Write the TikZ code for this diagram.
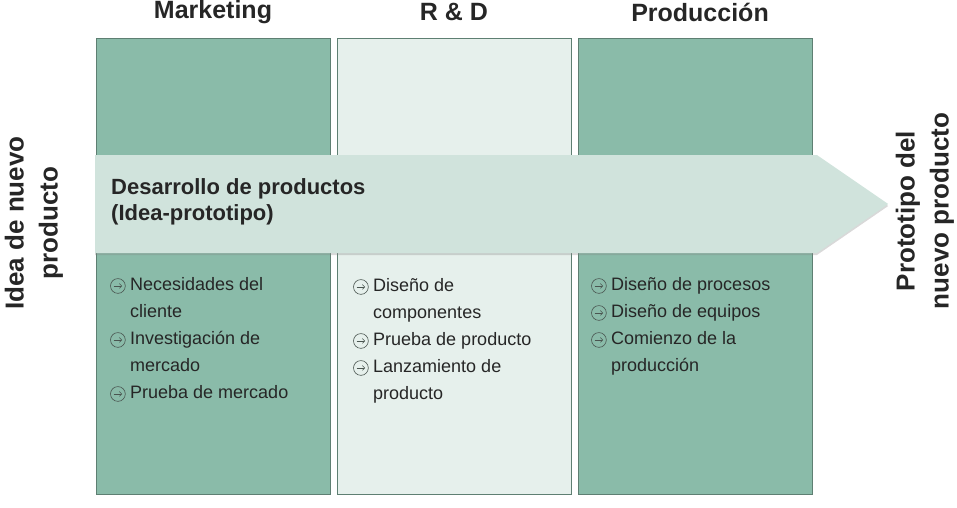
\documentclass[tikz,border=0pt]{standalone}
\usepackage{fontspec}
\setmainfont{Liberation Sans}
\usetikzlibrary{arrows.meta,positioning,shapes.arrows,shadows}
\definecolor{Sage}{HTML}{8ABBA9}
\definecolor{SageLight}{HTML}{E6F0EC}
\definecolor{SageEdge}{HTML}{5E7F72}
\definecolor{FlowFill}{HTML}{D0E3DC}
\definecolor{Ink}{HTML}{262626}
\definecolor{BulletGray}{HTML}{4A5550}

\newcommand{\bulletarrow}{\tikz[baseline=-0.45ex,x=1pt,y=1pt,line width=0.6pt,BulletGray]{%
  \draw (0,0) circle (7.4);
  \draw[-{Straight Barb[length=2.4pt,width=4.8pt]}] (-4.3,0)--(4.3,0);}}
\newcommand{\itm}[1]{\makebox[20pt][l]{\bulletarrow}#1}
\newcommand{\cnt}[1]{\hspace*{20pt}#1}

\tikzset{
  column/.style={draw=SageEdge,line width=0.6pt,minimum width=234pt,minimum height=456pt,inner sep=0pt},
  header/.style={font=\fontsize{25}{28}\selectfont\bfseries,text=Ink},
  items/.style={font=\fontsize{18}{27}\selectfont,text=Ink,align=left,anchor=north west,inner sep=0pt},
  sidelabel/.style={font=\fontsize{26}{34}\selectfont\bfseries,text=Ink,align=center,rotate=90}
}

\begin{document}
\begin{tikzpicture}[x=1pt,y=-1pt]
  \useasboundingbox (0,0) rectangle (957,507);

  % the three departments
  \node[column,fill=Sage] (mkt) at (213,266) {};
  \node[column,fill=SageLight] (rd) at (454,266) {};
  \node[column,fill=Sage] (prod) at (695,266) {};

  \node[header] (mkthead) at (213,12) {Marketing};
  \node[header] (rdhead) at (454,12) {R \& D};
  \node[header] (prodhead) at (700,12) {Producción};

  % flow arrow across
  \node[single arrow,single arrow head extend=0pt,single arrow tip angle=69,
        anchor=tail,fill=FlowFill,minimum height=793pt,minimum width=98pt,
        inner sep=0pt,drop shadow={opacity=0.3,shadow xshift=0pt,shadow yshift=-2pt}]
    (flow) at (95,204) {};
  \node[font=\fontsize{22}{26}\selectfont\bfseries,text=Ink,align=left,anchor=west,inner sep=0pt]
    (flowtext) at (111,202) {Desarrollo de productos\\(Idea-prototipo)};

  % lists
  \node[items] (mktlist) at (110,277) {\itm{Necesidades del}\\\cnt{cliente}\\\itm{Investigación de}\\\cnt{mercado}\\\itm{Prueba de mercado}};
  \node[items] (rdlist) at (353,278) {\itm{Diseño de}\\\cnt{componentes}\\\itm{Prueba de producto}\\\itm{Lanzamiento de}\\\cnt{producto}};
  \node[items] (prodlist) at (591,277) {\itm{Diseño de procesos}\\\itm{Diseño de equipos}\\\itm{Comienzo de la}\\\cnt{producción}};

  % start and end
  \node[sidelabel] (idea) at (34,223) {Idea de nuevo\\producto};
  \node[sidelabel] (proto) at (925,211) {Prototipo del\\nuevo producto};
\end{tikzpicture}
\end{document}
